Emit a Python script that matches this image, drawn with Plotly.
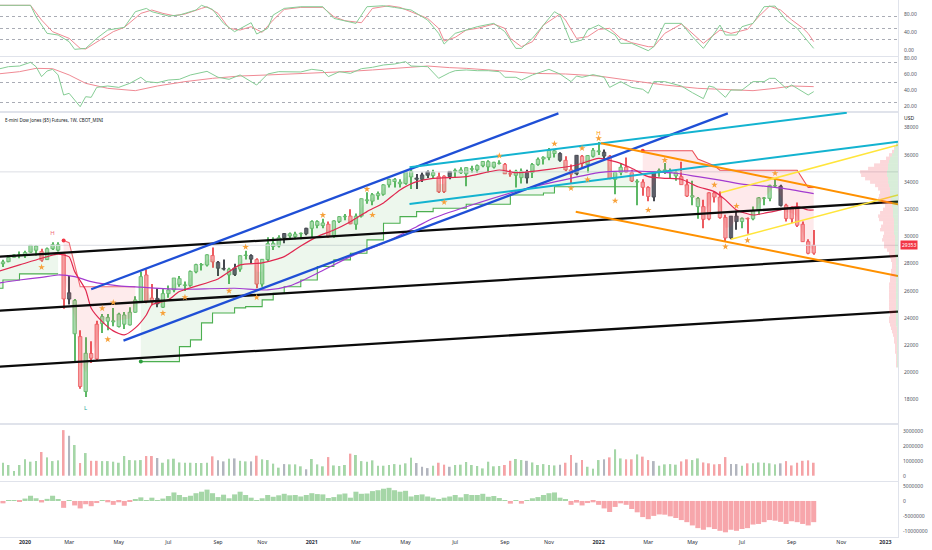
import datetime as dt
import plotly.graph_objects as go

# ---------------- DATA ----------------
FIRST_WEEK = dt.date(2019, 11, 25)

opens = [27900, 28050, 28000, 28150, 28470, 28640, 28600, 28850, 29300, 28900,
         28300, 29100, 29400, 28700, 25400, 25300, 22640, 18600, 21400, 21000,
         23600, 24050, 23800, 23380, 24230, 23500, 24430, 25210, 27170, 25250,
         25450, 24800, 25800, 26070, 26900, 26400, 26400, 27400, 27900, 27900,
         28600, 28100, 27600, 27600, 27200, 27600, 28600, 28600, 28300, 26500,
         28300, 29500, 29300, 29900, 30200, 30000, 30200, 30200, 30600, 31100,
         30800, 30900, 30000, 31100, 31450, 31500, 30900, 31500, 32700, 32600,
         33000, 33100, 33800, 34200, 34000, 33900, 34800, 34300, 34200, 34500,
         34700, 34400, 33300, 34400, 34800, 34900, 34600, 35000, 34900, 35200,
         35500, 35100, 35400, 35300, 34600, 34500, 34800, 34300, 34700, 35300,
         35700, 35800, 36300, 36100, 35600, 34900, 34600, 35900, 35300, 35900,
         36300, 36200, 35900, 34200, 34700, 35100, 34700, 34000, 34000, 33600,
         32900, 34700, 34900, 34800, 34700, 34400, 33800, 33000, 32800, 32200,
         31300, 33200, 32900, 31400, 29900, 31500, 31100, 31300, 31300, 31900,
         32800, 32800, 33750, 33700, 32300, 31300, 32100, 30900, 29620, 28780]
highs = [28175, 28100, 28290, 28600, 28700, 28900, 28960, 29375, 29373, 29100,
         29200, 29570, 29570, 28750, 27100, 25400, 23100, 22600, 22300, 23800,
         24300, 24300, 24750, 24400, 24450, 24800, 25600, 27400, 27600, 26500,
         26200, 26200, 26400, 26950, 27100, 26700, 27500, 28000, 28050, 28700,
         29200, 28200, 28300, 27700, 28000, 28600, 28950, 28700, 28400, 28350,
         29950, 29950, 30100, 30250, 30300, 30350, 30300, 30650, 31200, 31200,
         31300, 31100, 31200, 31500, 31650, 32000, 31700, 32800, 33250, 33200,
         33300, 33850, 34250, 34300, 34200, 34800, 35100, 34600, 34700, 34850,
         34900, 34700, 34500, 34800, 35000, 35100, 35100, 35200, 35300, 35550,
         35600, 35500, 35600, 35400, 34900, 34900, 35000, 34900, 35400, 35800,
         35900, 36500, 36400, 36200, 35900, 35300, 36000, 36000, 36000, 36500,
         36950, 36400, 36000, 34800, 35400, 35800, 34900, 34200, 34200, 33700,
         34800, 35000, 35400, 35000, 34900, 35500, 34200, 34100, 32900, 32700,
         33250, 33300, 33300, 31600, 31500, 31900, 31400, 31400, 32200, 32900,
         32900, 33800, 34300, 33800, 32400, 32200, 32500, 31100, 29800, 30480]
lows = [27850, 27325, 27750, 28100, 28450, 28400, 28420, 28800, 28600, 28150,
        28270, 29000, 28900, 24680, 25000, 20800, 18800, 18200, 20700, 20900,
        22900, 23100, 23400, 23300, 23200, 23450, 24400, 25150, 25100, 24950,
        24800, 24750, 25500, 25900, 26300, 26000, 26300, 27300, 27500, 27800,
        27700, 27100, 27500, 26500, 27100, 27400, 28300, 28000, 26200, 26300,
        28200, 29000, 29200, 29500, 29800, 29800, 29800, 30100, 29900, 30600,
        30600, 29900, 29900, 31000, 31200, 30900, 30500, 31400, 32400, 32300,
        32700, 33000, 33600, 33600, 33600, 33800, 33500, 33500, 34000, 34300,
        34300, 33200, 33200, 34200, 34300, 34600, 33700, 34700, 34700, 35100,
        34700, 35000, 35300, 34600, 34400, 33600, 33900, 33900, 34300, 35200,
        35300, 35600, 35800, 35500, 34800, 33900, 34500, 35000, 34700, 35800,
        36000, 35700, 34200, 33100, 34500, 34700, 34000, 32300, 33000, 32600,
        32600, 34400, 34600, 34300, 34100, 33800, 32900, 32300, 31300, 30600,
        31200, 32500, 31300, 29650, 29800, 30500, 30600, 30200, 31200, 31600,
        32300, 32600, 33600, 32200, 31100, 31000, 30700, 29600, 28700, 28650]
closes = [28051, 28015, 28135, 28455, 28645, 28634, 28823, 29348, 28989, 28256,
          29102, 29398, 28992, 25409, 25864, 22850, 18970, 21415, 21053, 23550,
          24110, 23775, 23724, 24290, 23550, 24430, 25335, 27050, 25210, 25470,
          25050, 25800, 26070, 26950, 26470, 26428, 27433, 27931, 27930, 28654,
          28133, 27666, 27657, 27174, 27683, 28587, 28606, 28336, 26502, 28323,
          29480, 29263, 29910, 30218, 30046, 30179, 30200, 30606, 31098, 30814,
          30997, 29983, 31148, 31458, 31494, 30932, 31496, 32779, 32628, 33073,
          33153, 33801, 34200, 34043, 33875, 34778, 34382, 34208, 34529, 34756,
          34480, 33290, 34433, 34786, 34870, 34688, 35061, 34935, 35209, 35515,
          35120, 35455, 35369, 34607, 34584, 34798, 34326, 34746, 35294, 35677,
          35820, 36328, 36100, 35602, 34899, 34580, 35971, 35365, 35950, 36338,
          36231, 35912, 34265, 34725, 35089, 34738, 34079, 34059, 33615, 32945,
          34755, 34861, 34818, 34721, 34451, 33811, 32977, 32899, 32197, 31262,
          33213, 32900, 31393, 29888, 31501, 31097, 31338, 31288, 31899, 32845,
          32803, 33761, 33706, 32283, 31318, 32151, 30822, 29620, 28770, 29353]
# bar colour class: G = green, R = red, K = grey
bar_class = list("GGGGGGGGGR" "GGGRKGRGRR" "GGGGGGGGRR" "KGGGGGGGGG" "RKKGKGGKRG"
                 "GGGKGGGKGG" "GRGGGRGGGG" "GGGGGGGKKK" "GRRKGGGGGG" "GGGRRGGKGG"
                 "GGGKRRKRGG" "GKRGGRRGRR" "KGGGGRRGGR" "RRRRKKGRGG" "GGGKRRRRRR")
volume = [700000, 800000, 870000, 720000, 310000, 720000, 1100000, 940000, 980000, 1590000,
          1230000, 980000, 1030000, 3060000, 2680000, 2060000, 850000, 1520000, 1000000, 1000000,
          980000, 980000, 940000, 870000, 1320000, 1050000, 1030000, 1050000, 1320000, 1320000,
          1190000, 870000, 1100000, 1140000, 890000, 870000, 870000, 850000, 850000, 870000,
          1300000, 1030000, 960000, 1140000, 1160000, 1000000, 960000, 960000, 1340000, 1100000,
          1050000, 810000, 540000, 780000, 760000, 760000, 630000, 430000, 1120000, 760000,
          630000, 1250000, 690000, 650000, 720000, 1480000, 1390000, 980000, 940000, 1030000,
          670000, 670000, 720000, 780000, 740000, 830000, 1210000, 850000, 600000, 510000,
          670000, 870000, 740000, 600000, 720000, 740000, 920000, 720000, 650000, 490000,
          940000, 630000, 650000, 720000, 1000000, 1120000, 1050000, 1000000, 890000, 720000,
          780000, 720000, 690000, 740000, 870000, 1390000, 870000, 1050000, 600000, 470000,
          1050000, 1100000, 1230000, 1770000, 1160000, 1100000, 1100000, 1430000, 1280000, 1050000,
          980000, 670000, 760000, 780000, 740000, 960000, 1100000, 1050000, 1160000, 890000,
          830000, 760000, 780000, 1250000, 780000, 780000, 670000, 830000, 830000, 890000,
          870000, 830000, 760000, 830000, 980000, 690000, 870000, 1000000, 1030000, 870000]
# lower histogram, in millions
hist_millions = [0.3, 0.2, -0.8, 0.1, 0.3, -0.3, 0.8, 1.75, 0.9, -0.5,
                 0.7, 1.75, 0.5, -2.3, 0.3, -1.5, -2.5, -1.1, -1.75, -0.7,
                 0.3, -0.45, -1.3, -0.45, -1.6, -0.3, 0.4, 1.2, 0.05, 1.1,
                 0.05, 0.8, 1.65, 2.85, 2.0, 1.3, 1.75, 2.6, 3.1, 3.8,
                 2.6, 1.3, 2.1, 0.9, 2.2, 3.1, 2.0, 1.1, 0.05, 0.9,
                 2.0, 1.4, 1.9, 2.4, 1.9, 2.0, 1.5, 2.0, 2.6, 2.3,
                 2.2, 1.0, 1.3, 2.2, 2.5, 1.1, 3.1, 2.4, 2.5, 3.3,
                 3.6, 4.1, 4.4, 3.6, 3.1, 3.4, 1.5, 2.0, 2.2, 1.5,
                 1.1, 0.5, 1.1, 1.5, 2.0, 1.2, 2.3, 2.0, 2.0, 2.4,
                 1.4, 1.65, 1.0, 0.3, -0.9, 0.2, -0.9, 0.05, 0.9, 1.3,
                 2.0, 2.6, 2.85, 1.1, 0.4, -1.3, -0.55, -1.5, -0.7, -0.45,
                 -1.3, -2.5, -3.7, -2.0, -0.8, -1.3, -2.7, -3.8, -5.4, -6.1,
                 -5.0, -4.5, -4.6, -5.15, -5.7, -6.4, -7.1, -8.2, -9.1, -9.65,
                 -8.8, -9.4, -10.0, -10.5, -9.65, -10.0, -9.4, -9.1, -7.9, -7.7,
                 -7.1, -6.4, -6.6, -7.0, -7.7, -6.8, -7.1, -7.7, -8.2, -7.1]

# stochastic RSI (week number, value)
stoch_k_week = [1, 7, 8, 10, 12, 14, 15, 17, 19, 21, 24, 26, 28, 29, 32, 34, 37, 38, 40, 42,
                44, 47, 48, 50, 51, 53, 56, 60, 62, 64, 66, 68, 71, 73, 76, 79, 81, 82, 84, 86,
                88, 91, 93, 95, 96, 98, 101, 102, 103, 105, 107, 108, 110, 113, 114, 116, 119, 120, 122, 125,
                127, 129, 131, 132, 133, 135, 136, 138, 140, 142, 144, 146, 148, 149]
stoch_k_val = [100, 100, 74.9, 38.2, 34.5, 19.8, 2.9, 5.1, 27.2, 45.5, 51.4, 85.9, 93.2, 85.9, 76.4, 78.6, 89.6, 100, 91, 60.2,
               41.9, 61.7, 36.7, 49.2, 78.6, 93.2, 96.9, 96.9, 71.2, 66.1, 60.2, 96.9, 99.1, 95.4, 89.6, 67.5, 38.2, 14.7, 38.2, 45.5,
               52.9, 60.2, 41.9, 5.1, 5.1, 27.2, 71.2, 85.9, 78.6, 17.6, 23.5, 45.5, 56.5, 34.5, 16.2, 16.2, 0, 8.8, 60.2, 60.2,
               30.8, 5.1, 38.2, 56.5, 34.5, 34.5, 52.9, 60.2, 96.9, 98.4, 67.5, 49.2, 19.8, 5.1]
stoch_d_week = [1, 7, 9, 11, 14, 16, 17, 20, 22, 24, 27, 29, 31, 33, 35, 38, 39, 41, 43, 45,
                47, 49, 51, 53, 56, 60, 62, 64, 67, 69, 72, 74, 76, 79, 81, 82, 84, 86, 88, 91,
                93, 94, 96, 98, 100, 103, 104, 106, 108, 110, 112, 114, 116, 119, 120, 122, 125, 126, 129, 131,
                132, 134, 137, 139, 141, 143, 145, 147, 148, 149]
stoch_d_val = [100, 100, 67.5, 41.9, 27.2, 5.1, 3.7, 27.2, 41.9, 51.4, 82.2, 89.6, 82.2, 77.1, 80.8, 93.2, 96.9, 82.2, 49.2, 45.5,
               52.9, 40.4, 67.5, 91, 95.4, 95.4, 74.9, 66.1, 61.7, 93.2, 99.1, 95.4, 85.9, 71.2, 49.2, 21.3, 29.4, 45.5, 49.2, 58.7,
               49.2, 27.2, 8.8, 19.8, 56.5, 80.8, 67.5, 27.2, 30.8, 47, 49.2, 27.2, 17.6, 8.8, 8.8, 38.2, 58.7, 49.2, 16.2, 34.5,
               45.5, 38.2, 47, 74.9, 98.4, 89.6, 68, 50, 38, 20]

# RSI and its moving average (week number, value)
rsi_week = [1, 3, 5, 7, 8, 9, 10, 11, 12, 13, 14, 16, 17, 18, 19, 21, 23, 25, 27, 28,
            30, 32, 34, 36, 39, 41, 43, 45, 48, 50, 52, 54, 56, 58, 60, 61, 63, 65, 67, 69,
            71, 73, 75, 76, 79, 81, 83, 84, 86, 88, 90, 92, 93, 95, 96, 98, 101, 103, 105, 106,
            107, 109, 111, 112, 114, 116, 118, 119, 120, 122, 125, 127, 129, 130, 131, 133, 134, 136, 137, 138,
            140, 141, 142, 143, 144, 145, 146, 148, 149]
rsi_val = [66.3, 69.6, 70.4, 75, 69.6, 57.2, 64.2, 66.3, 59.3, 34.4, 36.5, 19.9, 32.3, 31.5, 43.9, 45.6, 43.9, 48.9, 56.4, 51,
           49.7, 53, 53.9, 59.3, 63.8, 56.4, 53.9, 59.3, 46.8, 60.5, 63.4, 63, 63, 66.3, 64.6, 57.2, 63.4, 61.3, 67.1, 68.8,
           71.7, 72.9, 75.8, 70.4, 69.6, 55.1, 62.2, 64.6, 65.5, 64.6, 64.6, 63.4, 56.4, 56.4, 53, 59.3, 66.3, 60.5, 51, 58,
           56.4, 59.7, 56.4, 43.9, 51, 43.9, 41.5, 36.5, 51, 51, 45.6, 37.3, 29.9, 45.6, 43.9, 31.5, 40.6, 40.6, 45.6, 51,
           51, 55.1, 55.1, 48.9, 42.7, 46.8, 42.7, 34.4, 38.6]
rsi_ma_week = [1, 5, 8, 11, 14, 17, 21, 26, 30, 35, 40, 45, 50, 55, 59, 64, 69, 74, 79, 83,
               86, 92, 98, 104, 110, 116, 122, 128, 134, 138, 142, 145, 149]
rsi_ma_val = [60.5, 63.4, 67.5, 67.1, 59.3, 48.9, 42.7, 39.8, 45.6, 51, 55.1, 58, 59.3, 60.5, 61.3, 63.4, 65.5, 67.5, 70.4, 68.4,
              67.5, 64.6, 61.3, 60.5, 58, 52.2, 46.8, 42.7, 40.6, 39.8, 42.7, 45.6, 44.8]

# price overlays (week number, price)
ema_week = [1, 5, 9, 12, 14, 15, 17, 18, 20, 22, 24, 26, 28, 29, 32, 34, 41, 45, 49, 53,
            56, 59, 62, 65, 68, 71, 74, 77, 80, 86, 92, 95, 101, 106, 110, 113, 116, 119, 122, 125,
            128, 131, 133, 135, 138, 140, 143, 146, 148, 149]
ema_val = [27420, 27910, 28400, 28700, 28500, 27420, 26070, 24730, 23740, 23060, 22760, 23280, 24230, 24970, 25340, 25950, 26880, 27910, 28060, 28520,
           29300, 29990, 30480, 31090, 31830, 32470, 33420, 34030, 34280, 34400, 34890, 34690, 34940, 35260, 35750, 35500, 35020, 34400, 34280, 34210,
           33660, 33300, 32690, 31950, 31580, 31710, 31950, 32190, 31950, 31950]
sma_week = [1, 5, 9, 12, 15, 18, 23, 27, 32, 35, 44, 50, 54, 59, 65, 71, 77, 80, 86, 97,
            105, 110, 116, 119, 124, 128, 132, 136, 140, 144, 149]
sma_val = [26560, 26800, 27000, 27170, 27050, 26680, 26365, 26270, 26150, 26120, 26195, 26070, 26365, 27300, 28520, 29500, 30720, 31340, 32190, 33545,
           34280, 34690, 34820, 34770, 34650, 34400, 34150, 33850, 33700, 33500, 33150]

# trailing-stop (supertrend) segments
st_up1_week = [0, 2, 5, 12]
st_up1_val = [26200, 26800, 27250, 27250]
st_dn1_week = [13, 14, 16, 26]
st_dn1_val = [29700, 29550, 26310, 26310]
st_up2_week = [27, 32, 34, 36, 38, 40, 44, 46, 49, 51, 53, 56, 59, 62, 65, 68, 71, 74, 77, 80, 86, 94, 100, 102, 117]
st_up2_val = [20800, 20800, 21900, 22400, 23650, 24380, 24750, 24845, 25340, 25830, 26310, 26800, 27790, 28280, 28770, 29750, 30970, 31460, 31830, 32080, 32370, 33050, 33200, 33660, 33660]
st_dn2_week = [118, 127, 128, 131, 132, 146, 148, 149]
st_dn2_val = [36310, 36310, 35700, 35200, 34870, 34870, 33600, 33600]

# pivot markers
pivot_week = [9, 20, 21, 22, 31, 35, 43, 46, 48, 60, 68, 69, 82, 92, 102, 105, 107, 108, 110, 113, 119, 122, 131, 133, 135, 137, 142]
pivot_val = [27740, 24710, 22430, 25150, 24360, 25535, 26000, 29230, 25520, 31570, 33480, 31580, 32520, 35940, 36820, 33545, 36490, 34180, 37220, 32630, 31950, 35620, 33790, 29250, 32245, 29720, 34650]
hl_week = [11, 17, 110]
hl_val = [30240, 17320, 37540]
hl_text = ["H", "L", "H"]

# drawn trend lines (start date, end date) / (start price, end price)
black_dates = ["2019-12-05", "2023-01-18"]
black1_price = [28518, 32561]
black2_price = [24550, 28570]
black3_price = [20434, 24476]
blue1_dates = ["2020-03-30", "2021-11-13"]
blue1_price = [26122, 39058]
blue2_dates = ["2020-05-10", "2022-06-16"]
blue2_price = [22345, 39058]
cyan1_dates = ["2021-05-08", "2022-11-14"]
cyan1_price = [35090, 39100]
cyan2_dates = ["2021-05-08", "2023-01-18"]
cyan2_price = [32392, 36971]
orange1_dates = ["2022-01-06", "2023-01-18"]
orange1_price = [36853, 32370]
orange2_dates = ["2021-12-05", "2023-01-18"]
orange2_price = [31826, 27100]
yellow1_dates = ["2022-06-07", "2023-01-18"]
yellow1_price = [33223, 36728]
yellow2_dates = ["2022-06-20", "2023-01-18"]
yellow2_price = [29797, 33054]

# visible-range volume profile
vp_price = [36750, 36500, 36250, 36000, 35750, 35500, 35250, 35000, 34750, 34500,
            34250, 34000, 33750, 33500, 33250, 33000, 32750, 32500, 32250, 32000,
            31750, 31500, 31250, 31000, 30750, 30500, 30250, 30000, 29750, 29500,
            29250, 29000, 28750, 28500, 28250, 28000, 27750, 27500, 27250, 27000,
            26750, 26500, 26250, 26000, 25750, 25500, 25250, 25000, 24750, 24500,
            24250, 24000, 23750, 23500, 23250, 23000, 22750, 22500, 22250, 22000,
            21750, 21500, 21250, 21000, 20750, 20500]
vp_total = [2, 4, 6, 9, 12, 18, 24, 30, 38, 37,
            33, 28, 23, 20, 18, 19, 20, 16, 13, 15,
            18, 20, 19, 15, 17, 18, 14, 15, 16, 14,
            14, 11, 9, 8, 7, 6, 6, 7, 7, 8,
            8, 9, 9, 9, 9, 9, 9, 9, 9, 9,
            8, 9, 9, 8, 7, 6, 5, 4, 4, 3,
            3, 3, 2, 2, 2, 2]
vp_up = [2, 3, 4, 6, 8, 9, 10, 10, 11, 11,
         10, 10, 9, 8, 8, 8, 7, 6, 6, 5,
         5, 5, 4, 4, 4, 4, 4, 3, 3, 3,
         3, 3, 3, 2, 2, 2, 2, 2, 2, 2,
         2, 2, 2, 2, 2, 2, 2, 2, 2, 2,
         2, 2, 2, 2, 1, 1, 1, 1, 1, 1,
         1, 1, 1, 1, 1, 1]

# axis labels
xtick_dates = ["2020-01-06", "2020-03-02", "2020-05-04", "2020-07-06", "2020-09-07", "2020-11-02",
               "2021-01-04", "2021-03-01", "2021-05-03", "2021-07-05", "2021-09-06", "2021-11-01",
               "2022-01-03", "2022-03-07", "2022-05-02", "2022-07-04", "2022-09-05", "2022-11-07", "2023-01-02"]
xtick_text = ["<b>2020</b>", "Mar", "May", "Jul", "Sep", "Nov",
              "<b>2021</b>", "Mar", "May", "Jul", "Sep", "Nov",
              "<b>2022</b>", "Mar", "May", "Jul", "Sep", "Nov", "<b>2023</b>"]
price_ticks = [18000, 20000, 22000, 24000, 26000, 28000, 30000, 32000, 34000, 36000, 38000]
volume_ticks = [0, 1000000, 2000000, 3000000]
hist_ticks = [5000000, 0, -5000000, -10000000]

assert len(opens) == len(highs) == len(lows) == len(closes) == len(bar_class) == len(volume) == len(hist_millions) == 150
assert len(vp_price) == len(vp_total) == len(vp_up)

# ---------------- FIGURE ----------------
weeks = [FIRST_WEEK + dt.timedelta(weeks=i) for i in range(len(closes))]


def wk(idx):
    return [weeks[i] for i in idx]


DAY_MS = 86400000
X_RANGE = ["2019-12-05 06:00", "2023-01-18"]
FONT = "Noto Sans"

STYLE = {
    "G": dict(fill="#a7d9ab", edge="#5db866", vol="#a5d6a7"),
    "R": dict(fill="#f6a3a5", edge="#ec5a5f", vol="#f5a3a6"),
    "K": dict(fill="#5d606b", edge="#45484f", vol="#b2b5be"),
}

fig = go.Figure()

# volume profile (overlay axis, value = relative width): up part at the edge, rest beyond it
fig.add_trace(go.Bar(orientation="h", y=vp_price, x=vp_up, width=250, xaxis="x6", yaxis="y3",
                     marker=dict(color="rgba(76,175,80,0.22)", line=dict(width=0)), hoverinfo="skip"))
fig.add_trace(go.Bar(orientation="h", y=vp_price, base=vp_up, x=[t - u for t, u in zip(vp_total, vp_up)],
                     width=250, xaxis="x6", yaxis="y3",
                     marker=dict(color="rgba(242,54,69,0.20)", line=dict(width=0)), hoverinfo="skip"))

# POC and last-price horizontal lines
poc_level = vp_price[vp_total.index(max(vp_total))]
for lvl in (poc_level, closes[-1]):
    fig.add_trace(go.Scatter(x=X_RANGE, y=[lvl, lvl], mode="lines", yaxis="y3",
                             line=dict(color="#dcdee4", width=1), hoverinfo="skip"))

# trailing stop fills and lines
segments = [
    (st_up1_week, st_up1_val, "#4caf50", "rgba(76,175,80,0.10)", "hv"),
    (st_dn1_week, st_dn1_val, "#f06b72", "rgba(242,54,69,0.10)", "linear"),
    (st_up2_week, st_up2_val, "#4caf50", "rgba(76,175,80,0.10)", "hv"),
    (st_dn2_week, st_dn2_val, "#ec4f58", "rgba(242,54,69,0.11)", "linear"),
]
for sw, sv, lc, fc, shape in segments:
    seg = list(range(sw[0], sw[-1] + 1))
    mid = [(opens[i] + closes[i]) / 2 for i in seg]
    fig.add_trace(go.Scatter(x=wk(seg), y=mid, mode="lines", yaxis="y3",
                             line=dict(width=0, color="rgba(0,0,0,0)"), hoverinfo="skip"))
    fig.add_trace(go.Scatter(x=wk(sw), y=sv, mode="lines", yaxis="y3", fill="tonexty", fillcolor=fc,
                             line=dict(color=lc, width=1.1, shape=shape), hoverinfo="skip"))
fig.add_trace(go.Scatter(x=wk([st_dn1_week[0], st_up2_week[0], st_dn2_week[0]]),
                         y=[st_dn1_val[0], st_up2_val[0], st_dn2_val[0]], mode="markers", yaxis="y3",
                         marker=dict(size=4, color=["#f23645", "#2e9e3e", "#f23645"]), hoverinfo="skip"))

# moving averages
fig.add_trace(go.Scatter(x=wk(sma_week), y=sma_val, mode="lines", yaxis="y3",
                         line=dict(color="#a33bd0", width=1.2, shape="spline", smoothing=0.6), hoverinfo="skip"))
fig.add_trace(go.Scatter(x=wk(ema_week), y=ema_val, mode="lines", yaxis="y3",
                         line=dict(color="#e0274f", width=1.2, shape="spline", smoothing=0.6), hoverinfo="skip"))

# candles: wicks then bodies
fig.add_trace(go.Bar(x=weeks, base=lows, y=[h - l for h, l in zip(highs, lows)], yaxis="y3",
                     width=1.3 * DAY_MS, marker=dict(color=[STYLE[c]["edge"] for c in bar_class], line=dict(width=0)),
                     hoverinfo="skip"))
fig.add_trace(go.Bar(x=weeks, base=[min(o, c) for o, c in zip(opens, closes)],
                     y=[max(abs(c - o), 40) for o, c in zip(opens, closes)], yaxis="y3",
                     width=4.3 * DAY_MS,
                     marker=dict(color=[STYLE[c]["fill"] for c in bar_class],
                                 line=dict(color=[STYLE[c]["edge"] for c in bar_class], width=0.8)),
                     hoverinfo="skip"))

# trend lines
trend = [
    (black_dates, black1_price, "#0b0b0b", 2.3), (black_dates, black2_price, "#0b0b0b", 2.3),
    (black_dates, black3_price, "#0b0b0b", 2.3),
    (blue1_dates, blue1_price, "#1f4fd6", 2.3), (blue2_dates, blue2_price, "#1f4fd6", 2.3),
    (cyan1_dates, cyan1_price, "#13b3d0", 2.0), (cyan2_dates, cyan2_price, "#13b3d0", 2.0),
    (orange1_dates, orange1_price, "#ff9100", 2.0), (orange2_dates, orange2_price, "#ff9100", 2.0),
    (yellow1_dates, yellow1_price, "#ffe53b", 1.6), (yellow2_dates, yellow2_price, "#ffe53b", 1.6),
]
for xs, ys, col, w in trend:
    fig.add_trace(go.Scatter(x=xs, y=ys, mode="lines", yaxis="y3", line=dict(color=col, width=w), hoverinfo="skip"))

# pivots and H/L labels
fig.add_trace(go.Scatter(x=wk(pivot_week), y=pivot_val, mode="markers", yaxis="y3",
                         marker=dict(symbol="star", size=5, color="#f7a13a"), hoverinfo="skip"))
fig.add_trace(go.Scatter(x=wk(hl_week), y=hl_val, mode="text", text=hl_text, yaxis="y3",
                         textfont=dict(size=6, color=["#f06b7a", "#26a69a", "#ff9800"], family=FONT),
                         hoverinfo="skip"))

# stochastic RSI pane
fig.add_trace(go.Scatter(x=wk(stoch_d_week), y=stoch_d_val, mode="lines", yaxis="y",
                         line=dict(color="#f08a94", width=1), hoverinfo="skip"))
fig.add_trace(go.Scatter(x=wk(stoch_k_week), y=stoch_k_val, mode="lines", yaxis="y",
                         line=dict(color="#86cd95", width=1), hoverinfo="skip"))
# RSI pane
fig.add_trace(go.Scatter(x=wk(rsi_ma_week), y=rsi_ma_val, mode="lines", yaxis="y2",
                         line=dict(color="#f08a94", width=1), hoverinfo="skip"))
fig.add_trace(go.Scatter(x=wk(rsi_week), y=rsi_val, mode="lines", yaxis="y2",
                         line=dict(color="#86cd95", width=1), hoverinfo="skip"))
# volume pane
fig.add_trace(go.Bar(x=weeks, y=volume, yaxis="y4", width=2.4 * DAY_MS,
                     marker=dict(color=[STYLE[c]["vol"] for c in bar_class], line=dict(width=0)), hoverinfo="skip"))
# histogram pane
hist_vals = [v * 1e6 for v in hist_millions]
fig.add_trace(go.Bar(x=weeks, y=hist_vals, yaxis="y5", width=6.4 * DAY_MS,
                     marker=dict(color=["#a5d6a7" if v >= 0 else "#f7a6ab" for v in hist_vals], line=dict(width=0)),
                     hoverinfo="skip"))

# ---------------- LAYOUT ----------------
PLOT_H = 537.0


def dom(top_px, bot_px):
    return [1 - bot_px / PLOT_H, 1 - top_px / PLOT_H]


tickfont = dict(size=5.0, color="#50535e", family=FONT)
sep = "#e0e3eb"
yax_common = dict(side="right", anchor="x", showgrid=False, zeroline=False, ticks="", showline=True,
                  linecolor=sep, linewidth=1, tickfont=tickfont, automargin=False, ticklabelstandoff=4,
                  tickmode="array", ticklabeloverflow="allow")
dotted = dict(showgrid=True, gridcolor="#a9acb5", griddash="dot", gridwidth=1, tickmode="array", ticks="")

# scale labels of the two lower panes, written as annotations tied to their axes
lower_labels = []
for axis_ref, vals in (("y4", volume_ticks), ("y5", hist_ticks)):
    for v in vals:
        lower_labels.append(dict(text=str(v), xref="paper", yref=axis_ref, x=1.0, y=v, xanchor="left",
                                 yanchor="middle", xshift=3, showarrow=False, font=tickfont))

fig.update_layout(
    width=932, height=550, margin=dict(l=0, r=34, t=0, b=13),
    paper_bgcolor="white", plot_bgcolor="white", showlegend=False, barmode="overlay",
    font=dict(family=FONT),
    xaxis=dict(range=X_RANGE, type="date", anchor="y5", showgrid=False, zeroline=False,
               tickmode="array", tickvals=xtick_dates, ticktext=xtick_text, ticks="",
               tickfont=dict(size=5.3, color="#2a2e39", family=FONT), showline=True, linecolor=sep,
               mirror="all", automargin=False, ticklabeloverflow="allow"),
    xaxis6=dict(overlaying="x", anchor="y3", range=[900, 0], visible=False, fixedrange=True),
    yaxis=dict(domain=dom(0, 56), range=[-11.7, 111.7], tickvals=[0, 40, 80],
               ticktext=["0.00", "40.00", "80.00"], minor=dict(tickvals=[25, 50, 75], **dotted), **yax_common),
    yaxis2=dict(domain=dom(57, 112), range=[13.3, 81.6], tickvals=[20, 40, 60, 80],
                ticktext=["20.00", "40.00", "60.00", "80.00"], minor=dict(tickvals=[25, 50, 75], **dotted),
                **yax_common),
    yaxis3=dict(domain=dom(112, 424), range=[16213, 39154], tickvals=price_ticks,
                ticktext=[str(p) for p in price_ticks], **yax_common),
    yaxis4=dict(domain=dom(424, 481), range=[-356000, 3470000], tickvals=volume_ticks,
                showticklabels=False, **yax_common),
    yaxis5=dict(domain=dom(482, 537), range=[-12070000, 6350000], tickvals=hist_ticks,
                showticklabels=False, **yax_common),
    annotations=[
        dict(text="E-mini Dow Jones ($5) Futures, 1W, CBOT_MINI", xref="paper", yref="paper",
             x=0.003, y=1 - 120 / PLOT_H, xanchor="left", yanchor="middle", showarrow=False,
             font=dict(size=4.5, color="#131722", family=FONT)),
        dict(text="USD", xref="paper", yref="paper", x=1.005, y=1 - 118 / PLOT_H, xanchor="left",
             yanchor="middle", showarrow=False, font=dict(size=5.0, color="#131722", family=FONT)),
        dict(text=str(closes[-1]), xref="paper", yref="y3", x=1.0, y=closes[-1], xanchor="left",
             yanchor="middle", showarrow=False, bgcolor="#f23645", borderpad=1, xshift=2,
             font=dict(size=5.0, color="white", family=FONT)),
    ] + lower_labels,
)

fig.write_html("out.html", config={"displayModeBar": False},
               post_script="document.body.style.margin='0px'; document.body.style.overflow='hidden';")
